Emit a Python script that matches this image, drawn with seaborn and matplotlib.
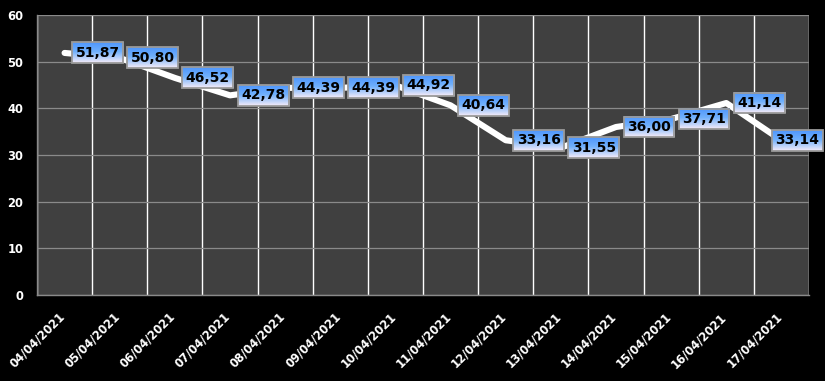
import numpy as np
import matplotlib
matplotlib.use("Agg")
import matplotlib.pyplot as plt
import matplotlib.transforms as mtransforms
import seaborn as sns
import pandas as pd
from matplotlib.image import BboxImage

dates = ["04/04/2021", "05/04/2021", "06/04/2021", "07/04/2021", "08/04/2021",
         "09/04/2021", "10/04/2021", "11/04/2021", "12/04/2021", "13/04/2021",
         "14/04/2021", "15/04/2021", "16/04/2021", "17/04/2021"]
values = [51.87, 50.80, 46.52, 42.78, 44.39, 44.39, 44.92, 40.64, 33.16, 31.55,
          36.00, 37.71, 41.14, 33.14]
y_ticks = [0, 10, 20, 30, 40, 50, 60]

df = pd.DataFrame({"date": dates, "value": values})

sns.set_style("dark")
plt.rcParams["font.family"] = ["DejaVu Sans"]

fig = plt.figure(figsize=(8.25, 3.81), dpi=100, facecolor="black")
ax = fig.add_axes([37 / 825, 86 / 381, 772 / 825, 280 / 381])
ax.set_facecolor("#404040")

sns.lineplot(data=df, x="date", y="value", ax=ax, color="white",
             linewidth=4.4, sort=False, solid_capstyle="round")

n = len(dates)
ax.set_xlim(-0.5, n - 0.5)
ax.set_ylim(0, 60)
ax.set_yticks(y_ticks)
ax.set_xticks(range(n))
ax.set_xticklabels(dates)
ax.set_xticks(np.arange(-0.5, n, 1.0), minor=True)
ax.set_xlabel("")
ax.set_ylabel("")

ax.grid(False)
ax.yaxis.grid(True, color="#8a8a8a", linewidth=0.9)
ax.xaxis.grid(True, which="minor", color="white", linewidth=1.0)
ax.set_axisbelow(True)

for s in ["top", "right"]:
    ax.spines[s].set_visible(False)
for s in ["left", "bottom"]:
    ax.spines[s].set_visible(True)
    ax.spines[s].set_color("#8a8a8a")
    ax.spines[s].set_linewidth(1.0)

ax.tick_params(axis="x", which="major", length=0, pad=11)
ax.tick_params(axis="x", which="minor", length=4, color="#8a8a8a", width=1)
ax.tick_params(axis="y", length=4, color="#8a8a8a", width=1, pad=6)
shift = mtransforms.ScaledTranslation(3 / 100, 0, fig.dpi_scale_trans)
for lab in ax.get_xticklabels():
    lab.set_rotation(45)
    lab.set_ha("right")
    lab.set_color("white")
    lab.set_fontweight("bold")
    lab.set_fontsize(8.3)
    lab.set_transform(lab.get_transform() + shift)
for lab in ax.get_yticklabels():
    lab.set_color("white")
    lab.set_fontweight("bold")
    lab.set_fontsize(8.3)

anns = []
for i, v in enumerate(values):
    txt = f"{v:.2f}".replace(".", ",")
    a = ax.annotate(txt, (i, v), xytext=(11, 0), textcoords="offset pixels",
                    ha="left", va="center", fontsize=10, fontweight="bold",
                    color="black", zorder=6,
                    bbox=dict(boxstyle="square,pad=0.25", facecolor="none",
                              edgecolor="#9a9a9a", linewidth=1.3))
    anns.append(a)

fig.canvas.draw()
renderer = fig.canvas.get_renderer()
W = fig.bbox.width
for a in anns:
    bb = a.get_bbox_patch().get_window_extent(renderer)
    if bb.x1 > W - 2:
        dx = bb.x1 - (W - 2)
        ox, oy = a.xyann
        a.xyann = (ox - dx, oy)
fig.canvas.draw()

top = np.array([78, 150, 252]) / 255.0
mid = np.array([112, 176, 252]) / 255.0
bot = np.array([246, 236, 248]) / 255.0
t = np.linspace(0, 1, 64)[:, None]
k = 0.45
grad = np.where(t < k,
                top[None, :] * (1 - t / k) + mid[None, :] * (t / k),
                mid[None, :] * (1 - (t - k) / (1 - k)) + bot[None, :] * ((t - k) / (1 - k)))
grad = grad[:, None, :]
for a in anns:
    bb = a.get_bbox_patch().get_window_extent(renderer)
    img = BboxImage(bb, interpolation="bilinear", zorder=5.5)
    img.set_data(grad)
    ax.add_artist(img)
    img.set_clip_on(False)

fig.savefig("out.png", dpi=100, facecolor="black")
